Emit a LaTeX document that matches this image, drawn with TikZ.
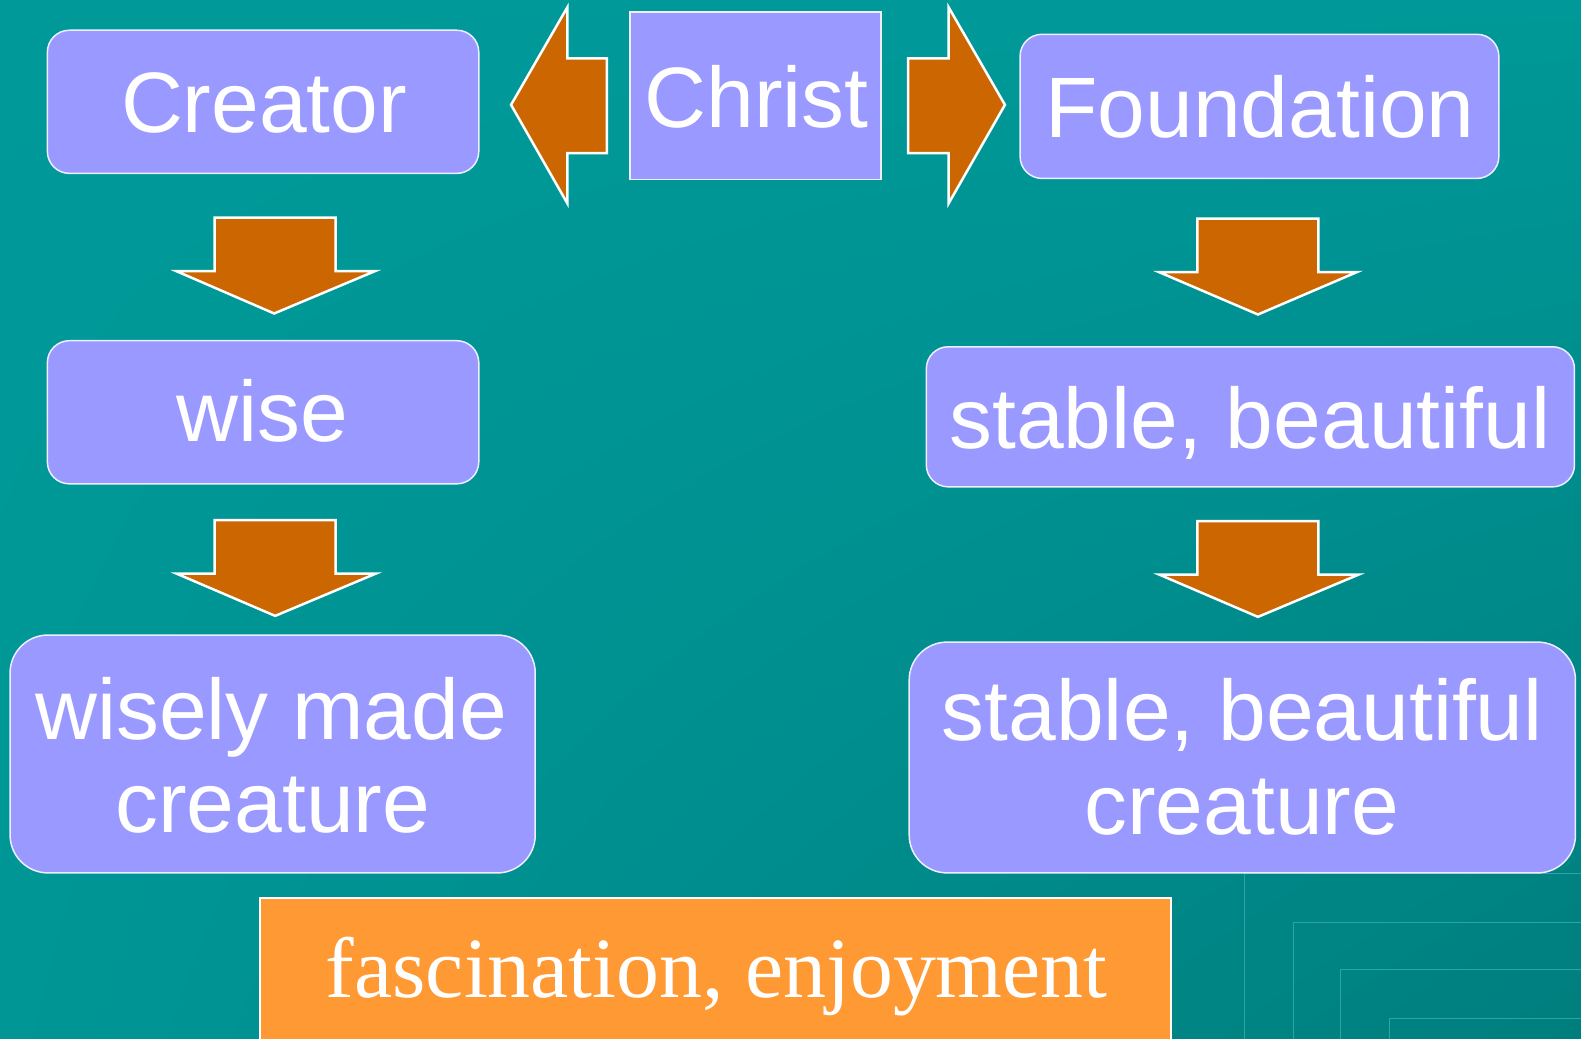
\documentclass[tikz,border=0pt]{standalone}
\usepackage{fontspec}
\setmainfont{Liberation Sans}
\newfontfamily\serifface{Liberation Serif}
\usetikzlibrary{shadings}
\definecolor{bgUL}{HTML}{009999}
\definecolor{bgUR}{HTML}{009898}
\definecolor{bgLL}{HTML}{009696}
\definecolor{bgLR}{HTML}{007E7E}
\definecolor{boxc}{HTML}{9999FF}
\definecolor{boxline}{HTML}{EEEEFF}
\definecolor{arrowc}{HTML}{CC6600}
\definecolor{orangec}{HTML}{FF9933}
\definecolor{decoline}{HTML}{2EA3A3}
\def\k{1.008}
\tikzset{
  rbox/.style={fill=boxc, draw=boxline, line width=1.5pt, inner sep=0pt, rounded corners=22pt},
  bigbox/.style={rbox, rounded corners=38pt},
  sqbox/.style={fill=boxc, draw=boxline, line width=1.5pt, inner sep=0pt},
  blockarrow/.style={fill=arrowc, draw=white, line width=2.5pt, line join=miter},
  txtlabel/.style={text=white, inner sep=0pt, anchor=base, font=\fontsize{85.8}{92}\selectfont},
  serlabel/.style={text=white, inner sep=0pt, anchor=base, font=\serifface\fontsize{85.8}{92}\selectfont},
  deco/.style={draw=decoline, line width=1pt}
}
\begin{document}
\begin{tikzpicture}[x=1.008pt,y=-1.008pt]
\useasboundingbox (0,0) rectangle (1568.5,1029.8);
\shade[upper left=bgUL, upper right=bgUR, lower left=bgLL, lower right=bgLR] (0,0) rectangle (1568.5,1029.8);
% decorative corner lines
\draw[deco] (1235,1035) -- (1235,867) -- (1575,867);
\draw[deco] (1283,1035) -- (1283,915) -- (1575,915);
\draw[deco] (1330,1035) -- (1330,962) -- (1575,962);
\draw[deco] (1378,1035) -- (1378,1010) -- (1575,1010);
% boxes
\node[rbox, minimum width=\k*428pt, minimum height=\k*142pt] (creator) at (261,101) {};
\node[sqbox, minimum width=\k*249pt, minimum height=\k*166pt] (christ) at (749.5,95) {};
\node[rbox, minimum width=\k*475pt, minimum height=\k*143pt] (foundation) at (1249.5,105.5) {};
\node[rbox, minimum width=\k*428pt, minimum height=\k*142pt] (wise) at (261,409) {};
\node[rbox, minimum width=\k*643pt, minimum height=\k*139pt] (stable) at (1240.5,413.5) {};
\node[bigbox, minimum width=\k*521pt, minimum height=\k*236pt] (wisely) at (270.5,748) {};
\node[bigbox, minimum width=\k*661pt, minimum height=\k*229pt] (stablec) at (1232.5,751.5) {};
\node[fill=orangec, draw=white, line width=2pt, inner sep=0pt, minimum width=\k*904pt, minimum height=\k*160pt] (fasc) at (710,971) {};
% block arrows
\draw[blockarrow] (507,104) -- (563,7) -- (563,58) -- (602,58) -- (602,152) -- (563,152) -- (563,202) -- cycle;
\draw[blockarrow] (997,104) -- (941,7) -- (941,58) -- (901,58) -- (901,152) -- (941,152) -- (941,202) -- cycle;
\draw[blockarrow] (213,216) -- (333,216) -- (333,269) -- (372,269) -- (272,311) -- (175,269) -- (213,269) -- cycle;
\draw[blockarrow] (213,516) -- (333,516) -- (333,569) -- (373,569) -- (273,611) -- (175,569) -- (213,569) -- cycle;
\draw[blockarrow] (1188,217) -- (1308,217) -- (1308,270) -- (1346,270) -- (1248,312) -- (1150,270) -- (1188,270) -- cycle;
\draw[blockarrow] (1188,517) -- (1308,517) -- (1308,570) -- (1348,570) -- (1248,612) -- (1150,570) -- (1188,570) -- cycle;
% texts
\node[txtlabel] (creator-t) at (262,131) {Creator};
\node[txtlabel] (christ-t) at (750.5,126) {Christ};
\node[txtlabel] (foundation-t) at (1250,136) {Foundation};
\node[txtlabel] (wise-t) at (260.5,438) {wise};
\node[txtlabel] (stable-t) at (1240,445) {stable, beautiful};
\node[txtlabel] (wisely-t1) at (269,734) {wisely made};
\node[txtlabel] (wisely-t2) at (270.5,826) {creature};
\node[txtlabel] (stablec-t1) at (1232.5,735) {stable, beautiful};
\node[txtlabel] (stablec-t2) at (1232,828) {creature};
\node[serlabel] (fasc-t) at (711,990) {fascination, enjoyment};
\end{tikzpicture}
\end{document}
